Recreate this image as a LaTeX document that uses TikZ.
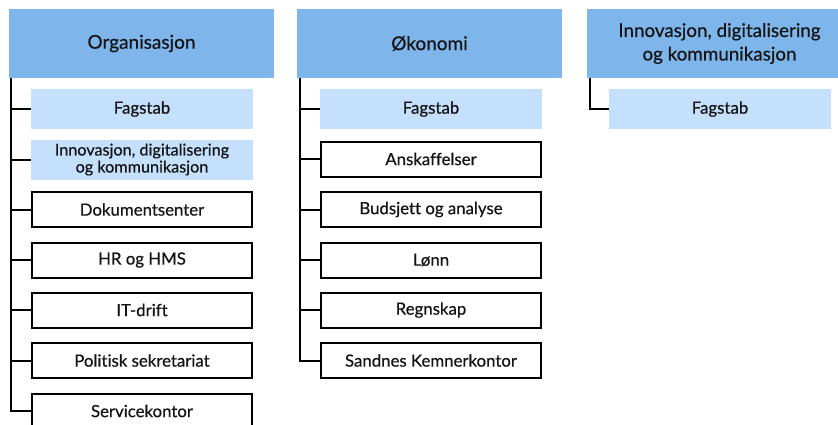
\documentclass[tikz,border=0pt]{standalone}
\usepackage{fontspec}
\setmainfont{Lato}[FakeBold=0.5, Ligatures=NoCommon]
\definecolor{headblue}{RGB}{126,182,236}
\definecolor{paleblue}{RGB}{197,224,252}
\definecolor{ink}{RGB}{20,20,20}
\tikzset{
  x=1pt, y=-1pt,
  head/.style={fill=headblue, draw=none, minimum width=265pt, minimum height=69pt,
    inner sep=0pt, align=center, text=ink, font=\fontsize{19}{22}\selectfont},
  staff/.style={fill=paleblue, draw=none, minimum width=222pt, minimum height=40pt,
    inner sep=0pt, align=center, text=ink, font=\fontsize{16.8}{19}\selectfont},
  unit/.style={fill=white, draw=black, line width=2pt, minimum width=220pt, minimum height=35pt,
    inner sep=0pt, align=center, text=ink, font=\fontsize{16.8}{19}\selectfont},
  link/.style={draw=black, line width=2pt},
}
\begin{document}
\begin{tikzpicture}
\useasboundingbox (0,0) rectangle (838,424);
\clip (0,0) rectangle (838,424);

% Organisasjon
\node[head] (org) at (141.5,43.5) {Organisasjon};
\node[staff] (orgfag) at (142,109) {Fagstab};
\node[staff, font=\fontsize{16.2}{17}\selectfont] (orginn) at (142,159.5) {Innovasjon, digitalisering\\og kommunikasjon};
\node[unit] (dok) at (142,209.5) {Dokumentsenter};
\node[unit] (hr) at (142,260) {HR og HMS};
\node[unit] (it) at (142,310) {IT-drift};
\node[unit] (pol) at (142,360.5) {Politisk sekretariat};
\node[unit] (serv) at (142,411) {Servicekontor};
\foreach \c in {orgfag,orginn,dok,hr,it,pol,serv}
  \draw[link] ([xshift=2pt]org.south west) |- (\c.west);

% Økonomi
\node[head] (oko) at (429.5,43.5) {Økonomi};
\node[staff] (okofag) at (431,109) {Fagstab};
\node[unit] (ansk) at (431,159) {Anskaffelser};
\node[unit] (bud) at (431,209.5) {Budsjett og analyse};
\node[unit] (lonn) at (431,260) {Lønn};
\node[unit] (regn) at (431,310) {Regnskap};
\node[unit] (sand) at (431,360.5) {Sandnes Kemnerkontor};
\foreach \c in {okofag,ansk,bud,lonn,regn,sand}
  \draw[link] ([xshift=3pt]oko.south west) |- (\c.west);

% Innovasjon, digitalisering og kommunikasjon
\node[head, font=\fontsize{18.8}{23.5}\selectfont] (inn) at (719.5,43.5) {Innovasjon, digitalisering\\og kommunikasjon};
\node[staff] (innfag) at (720,109) {Fagstab};
\draw[link] ([xshift=3pt]inn.south west) |- (innfag.west);
\end{tikzpicture}
\end{document}
